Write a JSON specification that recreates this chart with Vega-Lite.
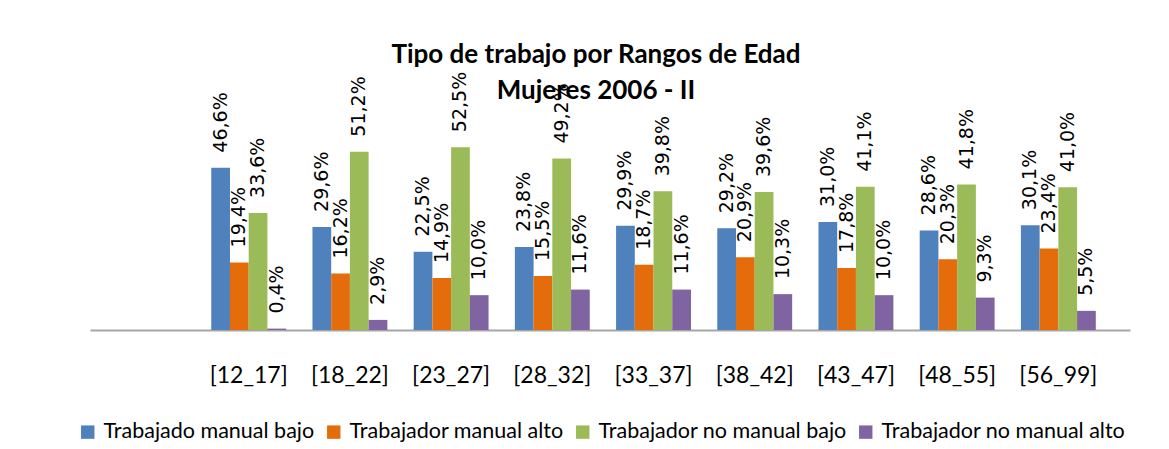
{
  "$schema": "https://vega.github.io/schema/vega-lite/v6.json",
  "autosize": {"type": "none"},
  "width": 1040,
  "height": 209,
  "padding": {"left": 90, "top": 121, "right": 39, "bottom": 119},
  "background": "white",
  "config": {
    "locale": {"number": {"decimal": ",", "thousands": ".", "grouping": [3], "currency": ["", "€"]}},
    "view": {"stroke": null},
    "font": "Lato"
  },
  "title": {
    "text": ["Tipo de trabajo por Rangos de Edad", "Mujeres 2006 - II"],
    "font": "Lato",
    "fontSize": 26,
    "fontWeight": "bold",
    "lineHeight": 36,
    "color": "#000000",
    "anchor": "middle",
    "dx": -14,
    "offset": 0,
    "dy": 32
  },
  "data": {
    "values": [
      {"rango": "[12_17]", "tipo": "Trabajado manual bajo", "v": 0.466},
      {"rango": "[12_17]", "tipo": "Trabajador manual alto", "v": 0.194},
      {"rango": "[12_17]", "tipo": "Trabajador no manual bajo", "v": 0.336},
      {"rango": "[12_17]", "tipo": "Trabajador no manual alto", "v": 0.004},
      {"rango": "[18_22]", "tipo": "Trabajado manual bajo", "v": 0.296},
      {"rango": "[18_22]", "tipo": "Trabajador manual alto", "v": 0.162},
      {"rango": "[18_22]", "tipo": "Trabajador no manual bajo", "v": 0.512},
      {"rango": "[18_22]", "tipo": "Trabajador no manual alto", "v": 0.029},
      {"rango": "[23_27]", "tipo": "Trabajado manual bajo", "v": 0.225},
      {"rango": "[23_27]", "tipo": "Trabajador manual alto", "v": 0.149},
      {"rango": "[23_27]", "tipo": "Trabajador no manual bajo", "v": 0.525},
      {"rango": "[23_27]", "tipo": "Trabajador no manual alto", "v": 0.100},
      {"rango": "[28_32]", "tipo": "Trabajado manual bajo", "v": 0.238},
      {"rango": "[28_32]", "tipo": "Trabajador manual alto", "v": 0.155},
      {"rango": "[28_32]", "tipo": "Trabajador no manual bajo", "v": 0.492},
      {"rango": "[28_32]", "tipo": "Trabajador no manual alto", "v": 0.116},
      {"rango": "[33_37]", "tipo": "Trabajado manual bajo", "v": 0.299},
      {"rango": "[33_37]", "tipo": "Trabajador manual alto", "v": 0.187},
      {"rango": "[33_37]", "tipo": "Trabajador no manual bajo", "v": 0.398},
      {"rango": "[33_37]", "tipo": "Trabajador no manual alto", "v": 0.116},
      {"rango": "[38_42]", "tipo": "Trabajado manual bajo", "v": 0.292},
      {"rango": "[38_42]", "tipo": "Trabajador manual alto", "v": 0.209},
      {"rango": "[38_42]", "tipo": "Trabajador no manual bajo", "v": 0.396},
      {"rango": "[38_42]", "tipo": "Trabajador no manual alto", "v": 0.103},
      {"rango": "[43_47]", "tipo": "Trabajado manual bajo", "v": 0.310},
      {"rango": "[43_47]", "tipo": "Trabajador manual alto", "v": 0.178},
      {"rango": "[43_47]", "tipo": "Trabajador no manual bajo", "v": 0.411},
      {"rango": "[43_47]", "tipo": "Trabajador no manual alto", "v": 0.100},
      {"rango": "[48_55]", "tipo": "Trabajado manual bajo", "v": 0.286},
      {"rango": "[48_55]", "tipo": "Trabajador manual alto", "v": 0.203},
      {"rango": "[48_55]", "tipo": "Trabajador no manual bajo", "v": 0.418},
      {"rango": "[48_55]", "tipo": "Trabajador no manual alto", "v": 0.093},
      {"rango": "[56_99]", "tipo": "Trabajado manual bajo", "v": 0.301},
      {"rango": "[56_99]", "tipo": "Trabajador manual alto", "v": 0.234},
      {"rango": "[56_99]", "tipo": "Trabajador no manual bajo", "v": 0.410},
      {"rango": "[56_99]", "tipo": "Trabajador no manual alto", "v": 0.055}
    ]
  },
  "encoding": {
    "x": {
      "field": "rango",
      "type": "nominal",
      "sort": null,
      "scale": {"paddingInner": 0.26, "paddingOuter": 0.768, "align": 0.78},
      "axis": {
        "title": null,
        "labelAngle": 0,
        "labelFont": "Lato",
        "labelFontSize": 23,
        "labelColor": "#000000",
        "labelPadding": 34,
        "ticks": false,
        "domainColor": "#a6a6a6",
        "domainWidth": 2
      }
    },
    "xOffset": {
      "field": "tipo",
      "type": "nominal",
      "sort": ["Trabajado manual bajo", "Trabajador manual alto", "Trabajador no manual bajo", "Trabajador no manual alto"],
      "scale": {"paddingInner": 0, "paddingOuter": 0}
    },
    "y": {
      "field": "v",
      "type": "quantitative",
      "scale": {"domain": [0, 0.6], "nice": false},
      "axis": null
    }
  },
  "layer": [
    {
      "mark": {"type": "bar", "clip": false},
      "encoding": {
        "color": {
          "field": "tipo",
          "type": "nominal",
          "scale": {
            "domain": ["Trabajado manual bajo", "Trabajador manual alto", "Trabajador no manual bajo", "Trabajador no manual alto"],
            "range": ["#4F81BD", "#E46C0A", "#9BBB59", "#8064A2"]
          },
          "legend": {
            "title": null,
            "orient": "none",
            "legendX": -13,
            "legendY": 300,
            "direction": "horizontal",
            "symbolType": "square",
            "symbolSize": 180,
            "symbolStrokeWidth": 0,
            "labelFont": "Lato",
            "labelFontSize": 21.5,
            "labelLimit": 0,
            "labelColor": "#000000",
            "columnPadding": 8,
            "labelOffset": 5
          }
        }
      }
    },
    {
      "mark": {
        "type": "text",
        "angle": 270,
        "align": "left",
        "baseline": "middle",
        "dx": 15,
        "font": "DejaVu Sans",
        "fontSize": 19,
        "color": "#000000"
      },
      "encoding": {
        "text": {"field": "v", "type": "quantitative", "format": ".1%"}
      }
    }
  ]
}
